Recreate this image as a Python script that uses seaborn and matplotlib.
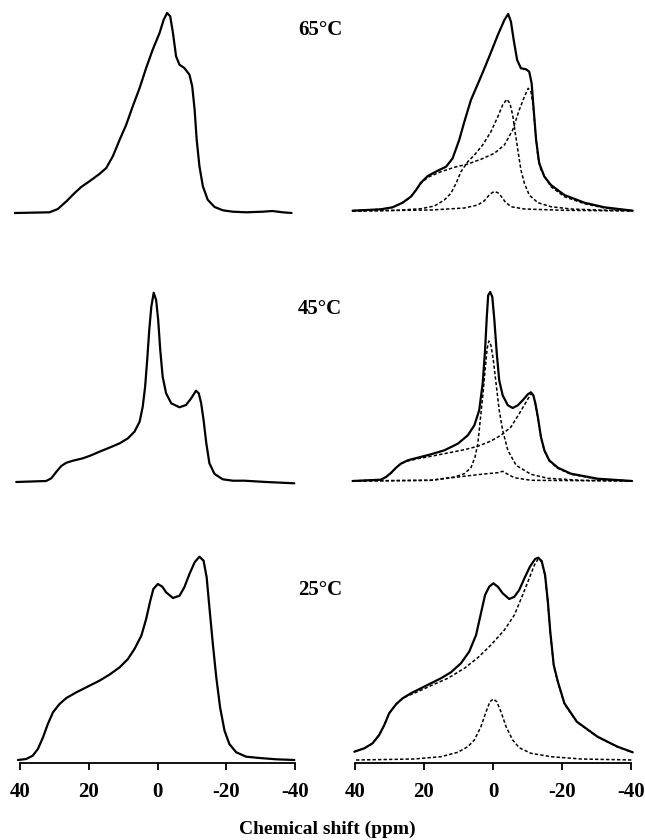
import numpy as np
import pandas as pd
import matplotlib
matplotlib.use("Agg")
import matplotlib.pyplot as plt
import seaborn as sns

# ---- experimental spectra (left column), ppm vs intensity ----
ppm_65_exp = [41.5, 31.4, 29.0, 26.5, 24.1, 22.2, 19.8, 16.9, 14.9, 13.0, 11.0, 9.1, 7.2, 5.2,
              3.3, 1.4, -0.6, -1.8, -2.8, -3.7, -4.5, -5.4, -6.4, -7.8, -9.3, -10.1, -10.8,
              -11.4, -12.2, -13.2, -14.6, -16.6, -19.0, -21.9, -25.9, -30.6, -33.4, -36.4, -39]
int_65_exp = [0, 0.7, 4, 11.7, 20, 26, 31.7, 39, 45, 56.7, 73.3, 88.3, 106.7, 125,
              145, 163.3, 180, 193.3, 200, 196.7, 180, 156.7, 148.3, 145, 138.3, 126.7, 103.3,
              73.3, 46.7, 26.7, 13.3, 6, 2.7, 1.3, 0.7, 1.3, 2, 0.7, 0]

ppm_45_exp = [41.1, 32.4, 30.9, 29.4, 28.0, 26.5, 24.6, 21.7, 19.3, 16.9, 14.0, 11.0, 8.6, 6.7,
              5.2, 4.3, 3.6, 3.0, 2.4, 1.8, 1.1, 0.4, -0.2, -0.8, -1.5, -2.5, -4.0, -6.4, -8.3,
              -9.8, -11.2, -12.0, -12.7, -13.4, -14.2, -15.1, -16.6, -19.0, -21.9, -25.3,
              -31.6, -39.8]
int_45_exp = [0, 1, 3.7, 10.3, 16, 19.3, 21.3, 23.7, 26.7, 30.3, 34.3, 38.7, 43.7, 50.3,
              60.3, 75.3, 95.3, 122, 152, 175.3, 189.3, 182, 162, 132, 105.3, 88.7, 78.7, 74.7, 77,
              83.7, 91.3, 88.7, 78.7, 62, 38.7, 18.7, 8, 2.7, 1.3, 1.3,
              0, -1.3]

ppm_25_exp = [40.6, 38.2, 36.3, 34.8, 33.3, 31.9, 30.4, 28.5, 26.5, 23.6, 20.7, 16.9, 14.0, 11.0,
              8.6, 6.7, 4.7, 3.3, 2.1, 1.2, -0.1, -1.4, -2.5, -4.5, -6.4, -7.8, -9.3, -10.8,
              -12.2, -13.4, -14.3, -15.1, -16.1, -17.1, -18.2, -19.5, -20.9, -22.9, -25.8,
              -29.7, -34.5, -39.8]
int_25_exp = [0, 1, 4.3, 11, 22.7, 36, 47.7, 56, 62, 67.7, 72.7, 79.3, 85.3, 92.7,
              101, 111, 124.3, 141, 159.3, 171, 176, 173.3, 167.7, 162, 164.3, 172.7, 186, 197.7,
              203.3, 199.3, 182.7, 152.7, 116, 82.7, 52.7, 29.3, 16, 7.7, 3.3,
              2, 0.7, 0]

# ---- simulated spectra (right column): total + components ----
ppm_65_sim = [40.7, 32.5, 29.1, 26.2, 23.8, 22.3, 20.9, 18.9, 16.0, 13.6, 11.7, 9.8, 8.3, 6.4,
              3.5, 1.1, -1.4, -3.3, -4.4, -5.2, -6.0, -7.0, -8.1, -9.6, -10.5, -11.2, -11.8,
              -12.5, -13.4, -14.9, -16.8, -20.7, -26.5, -32.3, -40.5]
int_65_sim = [0.3, 1.7, 3.7, 8.3, 14.3, 21, 28.3, 35, 40.3, 44.3, 52.7, 71, 89.3, 111,
              134.3, 154.3, 176, 191, 197, 189.3, 171, 151, 142.7, 141.7, 139.3, 127.7, 101,
              71, 47.7, 34.3, 26, 16, 8.3, 3.7, 0.3]
ppm_65_a = [40.7, 32.5, 29.1, 26.2, 23.8, 22.3, 20.9, 18.9, 15.1, 11.2, 7.3, 3.5, -0.4, -3.3,
            -5.7, -7.6, -9.1, -10.2, -11.0, -11.7, -12.3, -13.0, -13.9, -15.9, -16.8, -20.7,
            -26.5, -32.3, -40.5]
int_65_a = [0.3, 1.7, 3.7, 8.3, 14.3, 21, 27.5, 33.7, 39.3, 43.7, 47, 51.7, 57.7, 66,
            81, 101, 114.3, 122.7, 119.3, 104.3, 77.7, 54.3, 41, 29.3, 24.3, 14.3,
            7.3, 3, 0.3]
ppm_65_b = [40.7, 27.6, 20.9, 17.0, 14.1, 12.2, 10.7, 9.3, 7.3, 5.4, 3.0, 0.6, -1.4, -2.8,
            -4.0, -4.9, -5.7, -6.4, -7.2, -8.1, -9.1, -10.5, -13.0, -16.8, -22.6, -30.3, -40.5]
int_65_b = [0, 0.7, 2.3, 5, 11, 17.7, 27.7, 39.3, 49.3, 56, 66, 79.3, 94.3, 106,
            111.7, 107.7, 96, 79.3, 61, 41, 27.7, 16, 8.3, 4.3, 2, 1, 0.3]
ppm_65_c = [40.7, 18.0, 8.3, 4.4, 2.5, 1.1, 0.1, -0.6, -1.4, -2.3, -3.5, -5.2, -9.1, -20.7, -40.5]
int_65_c = [0, 1, 3, 6, 10.3, 16, 18.7, 19.3, 18.3, 15, 9.3, 4.3, 2, 0.7, 0]

ppm_45_sim = [40.7, 32.5, 31.0, 29.6, 28.1, 26.7, 24.7, 21.8, 18.0, 14.1, 10.2, 7.3, 5.4, 4.0,
              3.0, 2.3, 1.8, 1.4, 0.8, 0.2, -0.4, -1.1, -1.8, -2.8, -4.3, -5.7, -7.2, -8.6,
              -10.1, -11.0, -11.7, -12.3, -13.0, -13.9, -14.9, -16.3, -18.8, -22.6, -30.3, -40.3]
int_45_sim = [0, 1.3, 4, 8, 13.3, 17.3, 20.7, 23.3, 26.7, 30.7, 37.3, 45.7, 55.7, 70.7,
              97.3, 130.7, 164, 185.7, 189, 184, 160.7, 127.3, 100.7, 85.7, 75.7, 73, 75.7, 80.7,
              86.7, 88.7, 85.7, 77.3, 64, 44, 30.7, 20.7, 13.3, 7.3, 2.3, 0]
ppm_45_a = [40.7, 32.5, 31.0, 29.6, 28.1, 26.7, 24.7, 21.8, 18.0, 13.1, 8.3, 4.4, 0.6, -2.3,
            -5.2, -7.6, -9.6, -11.0, -11.7, -12.3, -13.0, -13.9, -14.9, -16.3, -18.8, -22.6,
            -30.3, -40.3]
int_45_a = [0, 1.3, 4, 8, 13.3, 17.3, 20, 22.3, 24.7, 28, 31.3, 34.7, 40, 45.7,
            54, 67.3, 79, 87.3, 85.3, 76.7, 63.3, 43.3, 30, 20, 12.7, 6.7,
            2, 0]
ppm_45_b = [40.7, 18.0, 11.2, 8.3, 6.4, 5.2, 4.4, 3.8, 3.0, 2.3, 1.7, 1.2, 0.6, -0.1, -0.9,
            -1.8, -2.8, -4.3, -6.7, -11.0, -15.9, -25.5, -40.3]
int_45_b = [0, 0.7, 4, 7.3, 13.3, 24, 37.3, 57.3, 84, 110.7, 132.3, 140, 135.7, 120.7, 97.3,
            70.7, 50.7, 30.7, 15.7, 6.7, 2.7, 0.7, 0]
ppm_45_c = [40.7, 18.0, 10.2, 3.5, -1.4, -2.8, -4.3, -6.2, -11.0, -40.3]
int_45_c = [0, 0.7, 4, 6.7, 8.3, 9.7, 6.7, 3.3, 0.7, 0]

ppm_25_sim = [40.2, 37.3, 34.9, 33.0, 31.5, 30.1, 28.1, 26.2, 23.8, 20.9, 18.0, 15.1, 12.2, 9.3,
              6.9, 4.9, 3.5, 2.3, 1.1, -0.1, -1.4, -2.8, -4.7, -6.2, -7.6, -9.1, -10.7, -12.2,
              -13.1, -14.1, -15.1, -15.9, -16.6, -17.6, -18.8, -20.7, -24.3, -30.3, -36.1, -40.5]
int_25_sim = [8.3, 11.7, 16.7, 25, 35, 46.7, 55.7, 61.7, 66.7, 71.7, 76.7, 81.7, 87.7, 96.7,
              108.3, 125, 146.7, 165, 173.3, 176.7, 173.3, 166.7, 161, 163.3, 170, 181.7, 193.3, 201,
              202.3, 199, 185, 158.3, 128.3, 95, 78.3, 56.7, 38.3, 23.3, 13.3, 7.7]
ppm_25_a = [40.2, 37.3, 34.9, 33.0, 31.5, 30.1, 28.1, 26.2, 23.8, 21.8, 18.0, 13.1, 8.3, 4.4,
            0.6, -3.3, -6.2, -8.6, -10.5, -12.0, -13.1, -14.1, -15.1, -15.9, -16.6, -17.6,
            -18.8, -20.7, -24.3, -30.3, -36.1, -40.5]
int_25_a = [8.3, 11.7, 16.7, 25, 35, 46.7, 55.7, 61.7, 65.5, 68.3, 74.3, 81.7, 91.7, 102.3,
            115, 130, 145, 165, 181.7, 195, 201, 198.3, 184.3, 157.7, 127.7, 94.3,
            77.7, 56, 38, 23, 13, 7.7]
ppm_25_b = [39.7, 22.8, 15.1, 10.2, 7.3, 5.4, 3.5, 2.0, 0.9, -0.1, -1.1, -2.3, -3.8, -5.7,
            -7.6, -11.0, -16.8, -25.5, -40.5]
int_25_b = [0, 1, 3.3, 7.7, 13.3, 20, 33.3, 48.3, 58.3, 61, 58.3, 48.3, 33.3, 20,
            12.3, 6.7, 3.3, 1, 0]

temperatures = ["65°C", "45°C", "25°C"]
tick_values = [40, 20, 0, -20, -40]
tick_labels = ["40", "20", "0", "-20", "-40"]

sns.set_style("white")
plt.rcParams["font.family"] = ["Liberation Serif", "DejaVu Serif"]
plt.rcParams["font.weight"] = "bold"
plt.rcParams["text.color"] = "black"
plt.rcParams["xtick.color"] = "black"
plt.rcParams["axes.labelcolor"] = "black"

W, H = 645, 840
fig = plt.figure(figsize=(W / 100, H / 100), dpi=100)

# panel pixel layout: x extents of the two columns and the baseline of each row
cols = [(20, 295), (355, 631)]
baselines = [(213, 211), (482, 481), (760, 760)]
panel_h = 212


def make_ax(col, base):
    x0, x1 = cols[col]
    bottom = base + 3
    ax = fig.add_axes([x0 / W, 1 - bottom / H, (x1 - x0) / W, panel_h / H])
    ax.set_xlim(40, -40)
    ax.set_ylim(-3, panel_h - 3)
    sns.despine(ax=ax, left=True, top=True, right=True)
    ax.set_yticks([])
    ax.patch.set_alpha(0)
    return ax


def draw(ax, ppm, inten, lw=1.5, ls="-"):
    d = pd.DataFrame({"ppm": ppm, "intensity": inten})
    sns.lineplot(data=d, x="ppm", y="intensity", ax=ax, color="black",
                 linewidth=lw, linestyle=ls, sort=False, estimator=None)
    line = ax.lines[-1]
    line.set_clip_on(False)
    line.set_solid_joinstyle("round")
    line.set_solid_capstyle("round")


dot = (0, (2.2, 1.4))
exp_data = [(ppm_65_exp, int_65_exp), (ppm_45_exp, int_45_exp), (ppm_25_exp, int_25_exp)]
sim_data = [
    [(ppm_65_sim, int_65_sim), (ppm_65_a, int_65_a), (ppm_65_b, int_65_b), (ppm_65_c, int_65_c)],
    [(ppm_45_sim, int_45_sim), (ppm_45_a, int_45_a), (ppm_45_b, int_45_b), (ppm_45_c, int_45_c)],
    [(ppm_25_sim, int_25_sim), (ppm_25_a, int_25_a), (ppm_25_b, int_25_b)],
]

for row in range(3):
    axl = make_ax(0, baselines[row][0])
    axr = make_ax(1, baselines[row][1])
    draw(axl, *exp_data[row], lw=1.6)
    for k, (p, v) in enumerate(sim_data[row]):
        if k == 0:
            draw(axr, p, v, lw=1.6)
        else:
            draw(axr, p, v, lw=1.1, ls=dot)
    for ax in (axl, axr):
        ax.set_xlabel("")
        ax.set_ylabel("")
        if row < 2:
            ax.spines["bottom"].set_visible(False)
            ax.set_xticks([])
        else:
            ax.spines["bottom"].set_linewidth(1.3)
            ax.spines["bottom"].set_color("black")
            ax.set_xticks(tick_values)
            ax.set_xticklabels(tick_labels, fontsize=15, fontweight="bold", color="black")
            ax.tick_params(axis="x", direction="out", length=5, width=1.3,
                           pad=9, color="black", bottom=True)

label_y = [30, 309, 590]
for t, y in zip(temperatures, label_y):
    fig.text(320 / W, 1 - y / H, t, ha="center", va="center",
             fontsize=15, fontweight="bold", color="black")

fig.text(327 / W, 1 - 829 / H, "Chemical shift (ppm)", ha="center", va="center",
         fontsize=14, fontweight="bold", color="black")

fig.savefig("out.png", dpi=100)
